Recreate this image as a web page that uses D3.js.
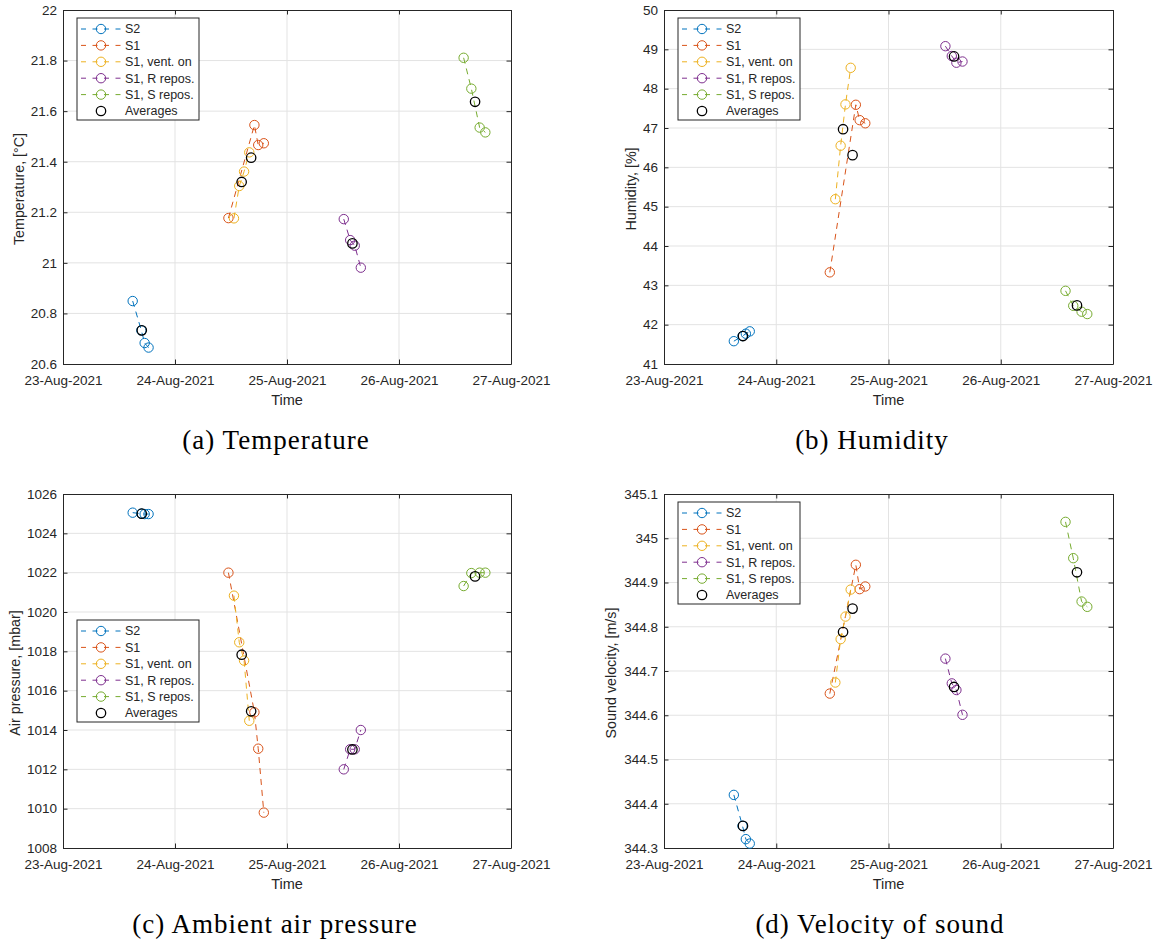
<!DOCTYPE html>
<html>
<head>
<meta charset="utf-8">
<script src="https://cdn.jsdelivr.net/npm/d3@7"></script>
<style>
  body { margin: 0; background: #fff; }
  text { font-family: "Liberation Sans", Arial, Helvetica, sans-serif; fill: #262626; }
  .caption { font-family: "Liberation Serif", "Times New Roman", serif; fill: #000; }
</style>
</head>
<body>
<svg id="fig" width="1160" height="942"></svg>
<script>
// series, in plotting order
const seriesNames = ["S2", "S1", "S1, vent. on", "S1, R repos.", "S1, S repos."];
const seriesColors = ["#0072BD", "#D95319", "#EDB120", "#7E2F8E", "#77AC30"];

// measurement times for each series
const sampleTimes = [
  ["2021-08-23 14:56", "2021-08-23 16:47", "2021-08-23 17:30", "2021-08-23 18:20"],
  ["2021-08-24 11:27", "2021-08-24 17:01", "2021-08-24 17:50", "2021-08-24 19:02"],
  ["2021-08-24 12:38", "2021-08-24 13:46", "2021-08-24 14:48", "2021-08-24 15:55"],
  ["2021-08-25 12:10", "2021-08-25 13:32", "2021-08-25 14:31", "2021-08-25 15:49"],
  ["2021-08-26 13:51", "2021-08-26 15:30", "2021-08-26 17:17", "2021-08-26 18:30"]
];
const avgTimes = ["2021-08-23 16:53", "2021-08-24 16:19", "2021-08-24 14:17", "2021-08-25 14:01", "2021-08-26 16:18"];

const temperature = [
  [20.849, 20.733, 20.683, 20.665],
  [21.177, 21.545, 21.466, 21.473],
  [21.176, 21.304, 21.361, 21.437],
  [21.173, 21.090, 21.068, 20.981],
  [21.811, 21.689, 21.535, 21.516]
];
const avgTemperature = [20.733, 21.416, 21.320, 21.077, 21.637];

const humidity = [
  [41.58, 41.71, 41.77, 41.83],
  [43.33, 47.59, 47.20, 47.12],
  [45.19, 46.55, 47.60, 48.53],
  [49.08, 48.83, 48.66, 48.69],
  [42.86, 42.48, 42.33, 42.27]
];
const avgHumidity = [41.71, 46.31, 46.97, 48.82, 42.49];

const pressure = [
  [1025.05, 1025.0, 1024.98, 1024.98],
  [1022.0, 1014.9, 1013.05, 1009.8],
  [1020.83, 1018.46, 1017.53, 1014.47],
  [1012.0, 1013.02, 1013.02, 1014.0],
  [1021.32, 1021.98, 1022.0, 1022.0]
];
const avgPressure = [1025.0, 1014.95, 1017.83, 1013.01, 1021.81];

const soundVelocity = [
  [344.42, 344.35, 344.32, 344.31],
  [344.649, 344.940, 344.885, 344.891],
  [344.674, 344.772, 344.823, 344.884],
  [344.728, 344.672, 344.657, 344.601],
  [345.037, 344.955, 344.857, 344.845]
];
const avgSoundVelocity = [344.35, 344.841, 344.788, 344.664, 344.923];

const xTickDates = ["2021-08-23 00:00", "2021-08-24 00:00", "2021-08-25 00:00", "2021-08-26 00:00", "2021-08-27 00:00"];
const yTicksTemperature = [20.6, 20.8, 21, 21.2, 21.4, 21.6, 21.8, 22];
const yTicksHumidity = [41, 42, 43, 44, 45, 46, 47, 48, 49, 50];
const yTicksPressure = [1008, 1010, 1012, 1014, 1016, 1018, 1020, 1022, 1024, 1026];
const yTicksSound = [344.3, 344.4, 344.5, 344.6, 344.7, 344.8, 344.9, 345, 345.1];

const parseTime = d3.timeParse("%Y-%m-%d %H:%M"),
      formatTick = d3.timeFormat("%d-%b-%Y");

const panels = [
  {values: temperature, avgs: avgTemperature, ticks: yTicksTemperature, ylabel: "Temperature, [°C]",
   caption: "(a) Temperature", box: {x: 63, y: 10, w: 448, h: 354}, ylabelX: 19, legendY: 8, capX: 276},
  {values: humidity, avgs: avgHumidity, ticks: yTicksHumidity, ylabel: "Humidity, [%]",
   caption: "(b) Humidity", box: {x: 664, y: 10, w: 449, h: 354}, ylabelX: 631, legendY: 8, capX: 872},
  {values: pressure, avgs: avgPressure, ticks: yTicksPressure, ylabel: "Air pressure, [mbar]",
   caption: "(c) Ambient air pressure", box: {x: 63, y: 494, w: 448, h: 354}, ylabelX: 15, legendY: 126, capX: 275},
  {values: soundVelocity, avgs: avgSoundVelocity, ticks: yTicksSound, ylabel: "Sound velocity, [m/s]",
   caption: "(d) Velocity of sound", box: {x: 664, y: 494, w: 449, h: 354}, ylabelX: 611, legendY: 8, capX: 880}
];

const svg = d3.select("#fig");
const markerR = 4.7;
const axisColor = "#262626";
const gridColor = "#e3e3e3";

panels.forEach(p => {
  const b = p.box;
  const g = svg.append("g").attr("transform", `translate(${b.x},${b.y})`);

  const xScale = d3.scaleTime()
    .domain([parseTime(xTickDates[0]), parseTime(xTickDates[xTickDates.length - 1])])
    .range([0, b.w]);
  const yScale = d3.scaleLinear()
    .domain([p.ticks[0], p.ticks[p.ticks.length - 1]])
    .range([b.h, 0]);
  const xTicks = xTickDates.map(parseTime);

  // grid
  g.append("g").selectAll("line")
    .data(xTicks.slice(1, -1))
    .join("line")
      .attr("x1", d => xScale(d)).attr("x2", d => xScale(d))
      .attr("y1", 0).attr("y2", b.h)
      .attr("stroke", gridColor);
  g.append("g").selectAll("line")
    .data(p.ticks.slice(1, -1))
    .join("line")
      .attr("y1", d => yScale(d)).attr("y2", d => yScale(d))
      .attr("x1", 0).attr("x2", b.w)
      .attr("stroke", gridColor);

  // axes with inward ticks on all sides
  const fmtY = d => (+d.toFixed(3)).toString();
  const gx = g.append("g").attr("transform", `translate(0,${b.h})`)
    .call(d3.axisBottom(xScale).tickValues(xTicks).tickFormat(formatTick).tickSizeInner(-4.5).tickSizeOuter(0).tickPadding(11));
  const gxTop = g.append("g")
    .call(d3.axisTop(xScale).tickValues(xTicks).tickFormat("").tickSizeInner(-4.5).tickSizeOuter(0));
  const gy = g.append("g")
    .call(d3.axisLeft(yScale).tickValues(p.ticks).tickFormat(fmtY).tickSizeInner(-4.5).tickSizeOuter(0).tickPadding(6));
  const gyRight = g.append("g").attr("transform", `translate(${b.w},0)`)
    .call(d3.axisRight(yScale).tickValues(p.ticks).tickFormat("").tickSizeInner(-4.5).tickSizeOuter(0));

  [gx, gxTop, gy, gyRight].forEach(a => {
    a.selectAll(".domain").attr("stroke", axisColor).attr("stroke-width", 1);
    a.selectAll(".tick line").attr("stroke", axisColor);
    a.selectAll("text").attr("fill", axisColor)
      .style("font-family", '"Liberation Sans", Arial, sans-serif').style("font-size", "13.5px");
  });

  // axis labels
  g.append("text")
    .attr("x", b.w / 2).attr("y", b.h + 41)
    .attr("text-anchor", "middle")
    .style("font-size", "14.5px")
    .text("Time");
  svg.append("text")
    .attr("transform", `translate(${p.ylabelX},${b.y + b.h / 2 + 2}) rotate(-90)`)
    .attr("text-anchor", "middle")
    .attr("dy", "0.35em")
    .style("font-size", "14.3px")
    .text(p.ylabel);

  // series
  const line = d3.line()
    .x(d => xScale(d.t))
    .y(d => yScale(d.v));

  seriesNames.forEach((name, i) => {
    const pts = sampleTimes[i].map((t, j) => ({t: parseTime(t), v: p.values[i][j]}));
    g.append("path")
      .datum(pts)
      .attr("d", line)
      .attr("fill", "none")
      .attr("stroke", seriesColors[i])
      .attr("stroke-width", 1)
      .attr("stroke-dasharray", "6,5");
    g.append("g").selectAll("circle")
      .data(pts)
      .join("circle")
        .attr("cx", d => xScale(d.t))
        .attr("cy", d => yScale(d.v))
        .attr("r", markerR)
        .attr("fill", "none")
        .attr("stroke", seriesColors[i])
        .attr("stroke-width", 1);
  });

  // averages
  const avgPts = avgTimes.map((t, i) => ({t: parseTime(t), v: p.avgs[i]}));
  g.append("g").selectAll("circle")
    .data(avgPts)
    .join("circle")
      .attr("cx", d => xScale(d.t))
      .attr("cy", d => yScale(d.v))
      .attr("r", markerR)
      .attr("fill", "none")
      .attr("stroke", "#000")
      .attr("stroke-width", 1.3);

  // legend
  const legend = g.append("g").attr("transform", `translate(14,${p.legendY})`);
  legend.append("rect")
    .attr("width", 122).attr("height", 102)
    .attr("fill", "#fff").attr("stroke", axisColor).attr("stroke-width", 1);
  const rowH = 16.4;
  const entries = seriesNames.map((n, i) => ({name: n, color: seriesColors[i], line: true}))
    .concat([{name: "Averages", color: "#000", line: false}]);
  const rows = legend.selectAll("g.row")
    .data(entries)
    .join("g")
      .attr("class", "row")
      .attr("transform", (d, i) => `translate(0,${11 + i * rowH})`);
  rows.filter(d => d.line).append("line")
    .attr("x1", 4).attr("x2", 44)
    .attr("stroke", d => d.color)
    .attr("stroke-width", 1)
    .attr("stroke-dasharray", "5,6.5");
  rows.append("circle")
    .attr("cx", 24).attr("r", markerR)
    .attr("fill", "none")
    .attr("stroke", d => d.color)
    .attr("stroke-width", d => d.line ? 1 : 1.3);
  rows.append("text")
    .attr("x", 48).attr("dy", "0.35em")
    .style("font-size", "12.5px")
    .attr("fill", "#000")
    .text(d => d.name);

  // caption
  svg.append("text")
    .attr("class", "caption")
    .attr("x", p.capX).attr("y", b.y + b.h + 85)
    .attr("text-anchor", "middle")
    .style("font-size", "27px")
    .style("letter-spacing", "1px")
    .text(p.caption);
});
</script>
</body>
</html>
